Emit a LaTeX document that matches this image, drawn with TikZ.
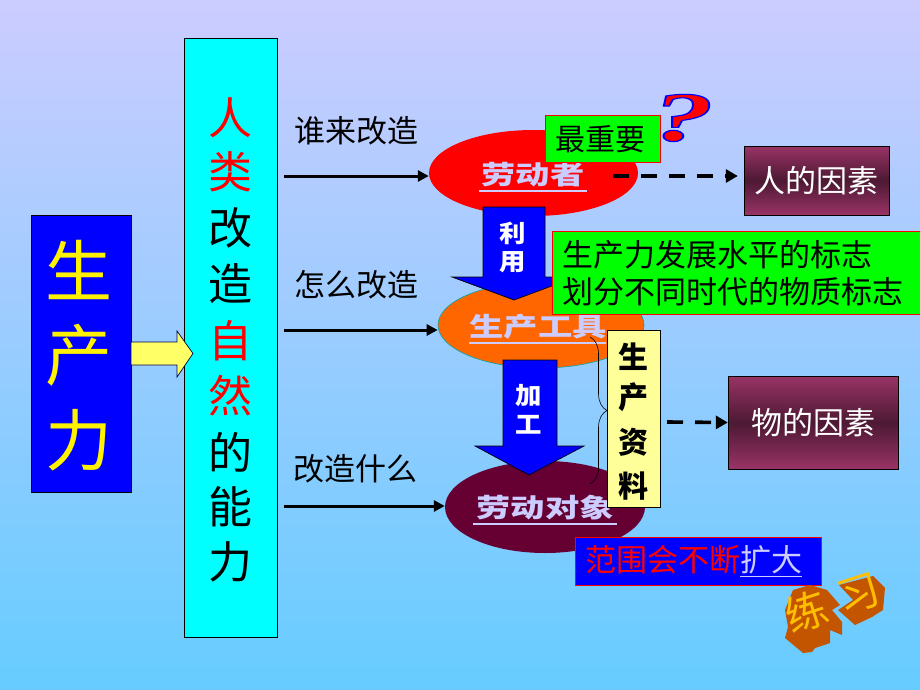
\documentclass[tikz,border=0pt]{standalone}
\usepackage{fontspec}
\setmainfont{Noto Sans CJK SC}
\newfontfamily\markfont[FakeBold=1.6]{Liberation Serif Bold Italic}
\usetikzlibrary{arrows.meta,shapes.geometric,decorations.pathreplacing}
\definecolor{skytop}{RGB}{204,204,255}
\definecolor{skybot}{RGB}{102,204,255}
\definecolor{boxcyan}{RGB}{0,255,255}
\definecolor{maroonfill}{RGB}{102,0,51}
\definecolor{factoredge}{RGB}{153,51,102}
\definecolor{factormid}{RGB}{77,25,51}
\definecolor{lilac}{RGB}{204,204,255}
\definecolor{palebox}{RGB}{255,255,153}
\definecolor{arrowyellow}{RGB}{255,255,102}
\definecolor{orangefill}{RGB}{255,102,0}
\definecolor{extrude}{RGB}{195,85,0}
\definecolor{wordgold}{RGB}{255,190,0}
\tikzset{
  talltext/.style={font=\fontsize{44}{44}\selectfont,inner sep=0pt},
  greenbox/.style={draw=red,fill=green,line width=0.8pt,font=\fontsize{31}{37}\selectfont,align=left,anchor=north west,text=black},
  factorbox/.style={draw=black,top color=factoredge,bottom color=factoredge,middle color=factormid,font=\fontsize{31}{31}\selectfont,text=white},
  asklabel/.style={font=\fontsize{31}{31}\selectfont,inner sep=0pt},
  mainflow/.style={-{Triangle[length=11pt,width=11pt]},line width=3pt,draw=black},
  dashflow/.style={-{Triangle[length=12pt,width=13pt]},line width=3.6pt,dash pattern=on 16pt off 12pt,draw=black},
  oval/.style={ellipse,inner sep=0pt},
  ovaltext/.style={font=\fontsize{26}{26}\bfseries\selectfont,text=lilac,inner sep=1pt,xscale=1.32},
  ovalline/.style={draw=lilac,line width=1.4pt},
  downarrow/.style={fill=blue,draw=black,line width=0.7pt},
  armtext/.style={font=\fontsize{24}{24}\bfseries\selectfont,text=white,inner sep=0pt,xscale=1.1},
  sidetext/.style={font=\fontsize{30}{30}\bfseries\selectfont,text=black,inner sep=0pt},
  wordart/.style={font=\fontsize{42}{42}\selectfont,text=wordgold,rotate=18,inner sep=0pt}
}
\begin{document}
\begin{tikzpicture}[x=1pt,y=-1pt]
  \useasboundingbox (0,0) rectangle (920,690);
  \shade[top color=skytop,bottom color=skybot] (0,0) rectangle (920,690);
  % left column
  \node[draw=black,fill=blue,minimum width=100pt,minimum height=277pt,inner sep=0pt] (force) at (81,353.5) {};
  \foreach \ch/\yy in {生/270,产/355,力/440}
    \node[font=\fontsize{67}{67}\selectfont,text=yellow,inner sep=0pt] (force\yy) at (79,\yy) {\ch};
  \node[draw=black,fill=boxcyan,minimum width=93pt,minimum height=599pt,inner sep=0pt] (ability) at (230.5,337.5) {};
  \foreach \ch/\yy/\cc in {人/118/red,类/172/red,改/228/black,造/284/black,自/341/red,然/396/red,的/452/black,能/507/black,力/562/black}
    \node[talltext,text=\cc] (ability\yy) at (230.5,\yy) {\ch};
  \path[draw=black!70!blue,line width=0.7pt,fill=arrowyellow]
    (131,342) -- (177,342) -- (177,331) -- (193,353.5) -- (177,377) -- (177,365) -- (131,365) -- cycle;
  % ellipses
  \node[oval,fill=red,minimum width=209pt,minimum height=86pt] (worker) at (533.5,173) {};
  \node[oval,fill=orangefill,draw=teal!70!cyan,line width=0.6pt,minimum width=206pt,minimum height=86pt] (tool) at (541,325) {};
  \node[oval,fill=maroonfill,minimum width=200pt,minimum height=92pt] (object) at (545,507) {};
  \node[ovaltext] (workertext) at (533,175) {劳动者};
  \node[ovaltext] (tooltext) at (538,327) {生产工具};
  \node[ovaltext] (objecttext) at (545,508) {劳动对象};
  \coordinate (wline1) at (479,191); \coordinate (wline2) at (587,191);
  \coordinate (tline1) at (469,343); \coordinate (tline2) at (606,343);
  \coordinate (oline1) at (473,524); \coordinate (oline2) at (617,524);
  \draw[ovalline] (wline1) -- (wline2);
  \draw[ovalline] (tline1) -- (tline2);
  \draw[ovalline] (oline1) -- (oline2);
  % questions and flows
  \node[asklabel] (who) at (356.5,131) {谁来改造};
  \node[asklabel] (how) at (356.5,285) {怎么改造};
  \node[asklabel] (what) at (355.5,469) {改造什么};
  \coordinate (whostart) at (284,176);
  \coordinate (howstart) at (284,330);
  \coordinate (whatstart) at (284,506);
  \draw[mainflow] (whostart) -- (worker.west |- whostart);
  \draw[mainflow] (howstart) -- (tool.west |- howstart);
  \draw[mainflow] (whatstart) -- (object.west |- whatstart);
  % block arrows
  \path[downarrow] (483,207) -- (545,207) -- (545,277) -- (576,277) -- (514,300) -- (452,277) -- (483,277) -- cycle;
  \node[armtext] (use1) at (513,233) {利};
  \node[armtext] (use2) at (513,262) {用};
  \path[downarrow] (503,360) -- (557,360) -- (557,446) -- (584,446) -- (529,475) -- (475,446) -- (503,446) -- cycle;
  \node[armtext] (work1) at (529,396) {加};
  \node[armtext] (work2) at (529,425) {工};
  % right notes
  \node[greenbox,minimum width=115pt,minimum height=47pt,inner sep=0pt,align=center,font=\fontsize{30}{30}\selectfont] (key) at (545,115) {最重要\hspace*{4pt}};
  \node[font=\fontsize{70}{70}\markfont,text=red,xscale=1.75,inner sep=0pt] (mark) at (683,118) {\special{pdf:code 0 0 1 RG}?};
  \node[greenbox,minimum width=368pt,minimum height=83pt,inner sep=0pt,text width=348pt] (sign) at (552,231) {生产力发展水平的标志\\划分不同时代的物质标志};
  \node[draw=black,fill=palebox,minimum width=53pt,minimum height=177pt,inner sep=0pt] (means) at (633.5,418.5) {};
  \foreach \ch/\yy in {生/357,产/397,资/442,料/486}
    \node[sidetext] (means\yy) at (633.5,\yy) {\ch};
  \coordinate (bracetop) at (590,337);
  \coordinate (bracebot) at (590,484);
  \draw[decorate,decoration={brace,amplitude=17pt},line width=0.6pt] (bracetop) -- (bracebot);
  \node[factorbox,minimum width=145pt,minimum height=69pt,inner sep=0pt] (human) at (816.5,180.5) {人的因素};
  \node[factorbox,minimum width=170pt,minimum height=93pt,inner sep=0pt] (thing) at (813,422.5) {物的因素};
  \coordinate (dash1) at (613,176);
  \coordinate (dash2) at (667,422);
  \draw[dashflow,shorten >=6pt] (dash1) -- (human.west |- dash1);
  \draw[dashflow] (dash2) -- (thing.west);
  \node[draw=red,fill=blue,line width=0.8pt,minimum width=246pt,minimum height=48pt,inner sep=0pt,text width=226pt,align=left,font=\fontsize{31}{31}\selectfont] (range) at (698,561)
    {\textcolor{red}{范围会不断}\textcolor{lilac}{\underline{扩大}}};
  % word art
  \fill[extrude] (793,590) -- (810,585) -- (827,590) -- (840,605) -- (832,610) -- (842,622) -- (842,635) -- (830,630) -- (830,643) -- (815,648) -- (812,652) -- (803,653) -- (785,638) -- (788,627) -- (785,610) -- cycle;
  \fill[extrude] (839,585) -- (873,576) -- (885,588) -- (883,610) -- (872,617) -- (855,625) -- (838,610) -- (853,600) -- cycle;
  \node[wordart] (drill1) at (806,612) {练};
  \node[wordart] (drill2) at (859,594) {习};
\end{tikzpicture}
\end{document}
